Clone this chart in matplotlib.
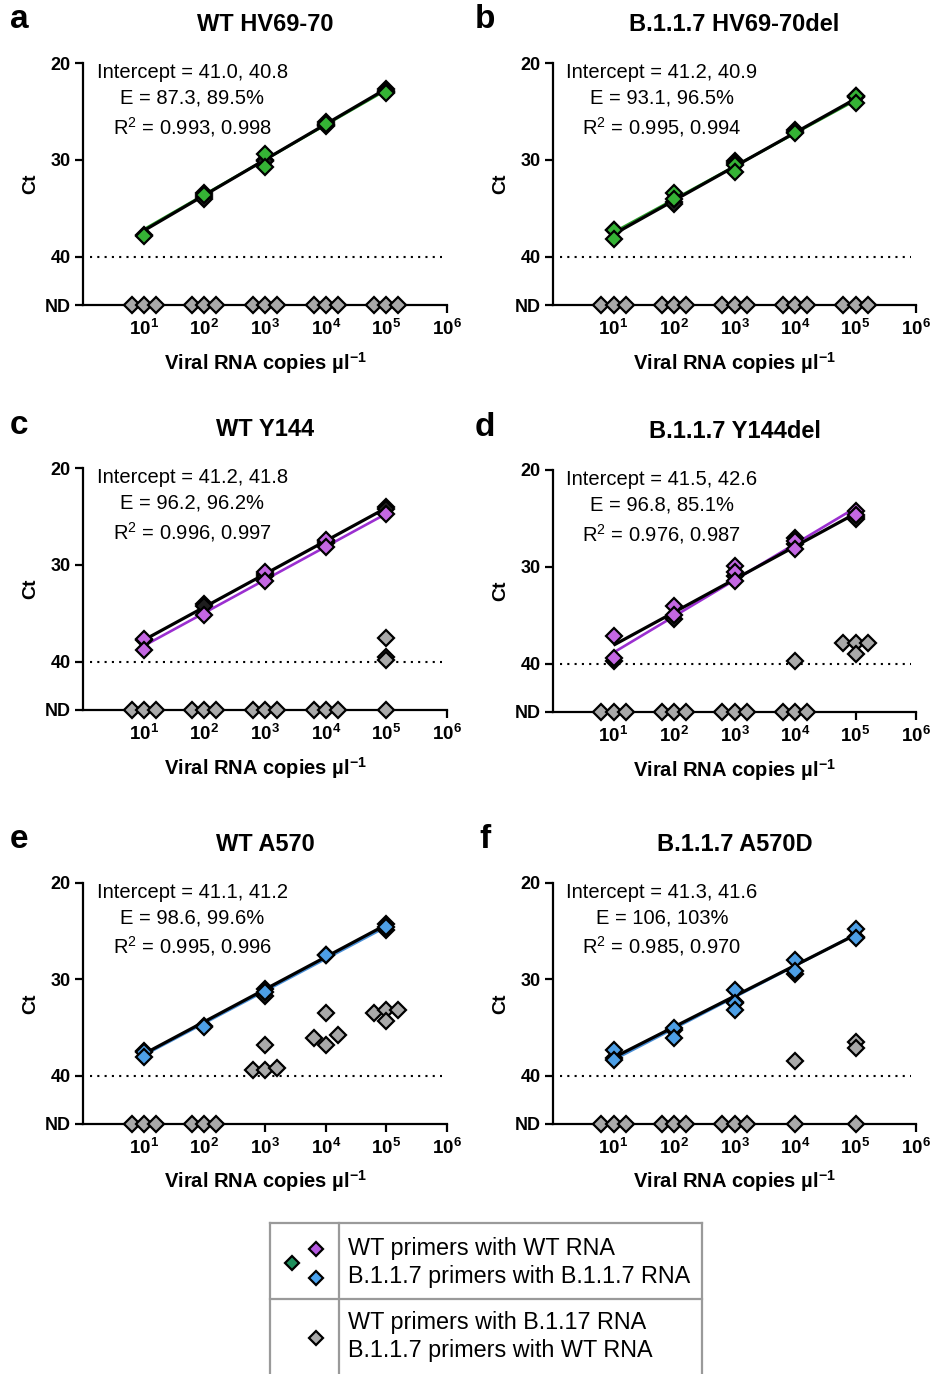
import numpy as np
import matplotlib
matplotlib.use('Agg')
import matplotlib.pyplot as plt

plt.rcParams['font.family'] = ['Liberation Sans', 'DejaVu Sans']
plt.rcParams['mathtext.fontset'] = 'custom'
plt.rcParams['mathtext.rm'] = 'Liberation Sans'
plt.rcParams['mathtext.it'] = 'Liberation Sans:italic'
plt.rcParams['mathtext.bf'] = 'Liberation Sans:bold'

# ---------------- data ----------------
log_conc = [1, 2, 3, 4, 5]                       # 10^1 .. 10^5 copies/ul
x_tick_exp = [1, 2, 3, 4, 5, 6]
x_tick_labels = [r'$\mathbf{10^{1}}$', r'$\mathbf{10^{2}}$', r'$\mathbf{10^{3}}$',
                 r'$\mathbf{10^{4}}$', r'$\mathbf{10^{5}}$', r'$\mathbf{10^{6}}$']
y_ticks = [20, 30, 40, 45]
y_tick_labels = ['20', '30', '40', 'ND']
ND_VALUE = 45
THRESHOLD = 40

panel_letters = ['a', 'b', 'c', 'd', 'e', 'f']
panel_titles = ['WT HV69-70', 'B.1.1.7 HV69-70del', 'WT Y144',
                'B.1.1.7 Y144del', 'WT A570', 'B.1.1.7 A570D']
intercepts = [(41.0, 40.8), (41.2, 40.9), (41.2, 41.8),
              (41.5, 42.6), (41.1, 41.2), (41.3, 41.6)]
efficiencies = [(87.3, 89.5), (93.1, 96.5), (96.2, 96.2),
                (96.8, 85.1), (98.6, 99.6), (106, 103)]
r_squared = [(0.993, 0.998), (0.995, 0.994), (0.996, 0.997),
             (0.976, 0.987), (0.995, 0.996), (0.985, 0.970)]

# Ct of the two matched series per concentration (black-filled, coloured)
black_a = [[37.8], [33.8, 34.1], [30.0, 30.1], [26.4, 26.5], [22.7, 22.9]]
color_a = [[37.9], [33.4, 33.6], [29.4, 30.7], [26.1, 26.3], [23.0, 23.1]]
black_b = [[37.3], [34.4, 34.6], [30.1, 30.3], [26.9, 27.1], [23.4, 23.5]]
color_b = [[37.3, 38.2], [33.4, 34.1], [30.5, 31.3], [27.2], [23.4, 24.1]]
black_c = [[37.8], [34.0, 34.3], [31.0, 31.2], [27.5, 27.7], [24.0, 24.2]]
color_c = [[37.7, 38.8], [35.2], [30.7, 31.7], [27.4, 28.2], [24.8]]
black_d = [[39.7], [35.4], [31.0], [27.0, 27.6], [24.9, 25.1]]
color_d = [[37.1, 39.4], [34.1, 35.0], [29.9, 30.5, 31.5], [27.3, 28.2], [24.2, 24.7]]
black_e = [[37.4], [34.8], [31.0, 31.7], [27.5], [24.3, 24.9]]
color_e = [[37.5, 38.1], [34.9], [31.3], [27.5], [24.6]]
black_f = [[38.2], [35.3], [32.3], [29.4], [25.6]]
color_f = [[37.3, 38.4], [35.0, 36.1], [31.1, 32.5, 33.2], [28.0, 29.1], [24.8, 25.7]]

# mismatched (grey) detections: concentration exponent, spread slot, Ct
grey_exp_c = [5, 5, 5]
grey_slot_c = [0, 0, 0]
grey_ct_c = [37.6, 39.5, 39.8]
grey_exp_d = [4, 5, 5, 5, 5]
grey_slot_d = [0, -1, 0, 0, 1]
grey_ct_d = [39.75, 37.9, 37.9, 39.0, 37.9]
grey_exp_e = [3, 3, 3, 3, 4, 4, 4, 4, 5, 5, 5, 5]
grey_slot_e = [-1, 0, 1, 0, -1, 0, 0, 1, -1, 0, 0, 1]
grey_ct_e = [39.35, 39.4, 39.2, 36.85, 36.1, 33.5, 36.85, 35.8, 33.5, 33.2, 34.3, 33.2]
grey_exp_f = [4, 5, 5]
grey_slot_f = [0, 0, 0]
grey_ct_f = [38.5, 36.5, 37.1]

# number of non-detected (ND) grey replicates per concentration
nd_a = [3, 3, 3, 3, 3]
nd_b = [3, 3, 3, 3, 3]
nd_c = [3, 3, 3, 3, 1]
nd_d = [3, 3, 3, 3, 0]
nd_e = [3, 3, 0, 0, 0]
nd_f = [3, 3, 3, 1, 1]

legend_row1 = ['WT primers with WT RNA', 'B.1.1.7 primers with B.1.1.7 RNA']
legend_row2 = ['WT primers with B.1.17 RNA', 'B.1.1.7 primers with WT RNA']

# ---------------- styles ----------------
GREEN, PURPLE, BLUE = '#35b335', '#c467e3', '#4d9fe6'
LINE_GREEN, LINE_PURPLE, LINE_BLUE = '#2a9d2a', '#9b2fd0', '#4a8fd6'
GREY = '#a9a9a9'
BLACKFILL = '#1e1e1e'
MS = 8.0
MEW = 1.6
SPREAD = 0.2   # decades between side-by-side replicates

panels = [
    dict(black=black_a, color=color_a, gexp=[], gslot=[], gct=[], nd=nd_a, fc=GREEN, lc=LINE_GREEN),
    dict(black=black_b, color=color_b, gexp=[], gslot=[], gct=[], nd=nd_b, fc=GREEN, lc=LINE_GREEN),
    dict(black=black_c, color=color_c, gexp=grey_exp_c, gslot=grey_slot_c, gct=grey_ct_c, nd=nd_c, fc=PURPLE, lc=LINE_PURPLE),
    dict(black=black_d, color=color_d, gexp=grey_exp_d, gslot=grey_slot_d, gct=grey_ct_d, nd=nd_d, fc=PURPLE, lc=LINE_PURPLE),
    dict(black=black_e, color=color_e, gexp=grey_exp_e, gslot=grey_slot_e, gct=grey_ct_e, nd=nd_e, fc=BLUE, lc=LINE_BLUE),
    dict(black=black_f, color=color_f, gexp=grey_exp_f, gslot=grey_slot_f, gct=grey_ct_f, nd=nd_f, fc=BLUE, lc=LINE_BLUE),
]

W, H = 933, 1374
# axes boxes in pixels: left, right, top, bottom
boxes = [(83, 447, 63, 305), (553, 916, 63, 305),
         (83, 447, 468, 710), (553, 916, 470, 712),
         (83, 447, 883, 1124), (553, 916, 883, 1124)]

fig = plt.figure(figsize=(W / 100, H / 100), dpi=100)


def expand(series):
    xs, ys = [], []
    for e, vals in zip(log_conc, series):
        for v in vals:
            xs.append(10.0 ** e)
            ys.append(v)
    return xs, ys


for i, p in enumerate(panels):
    l, r, t, b = boxes[i]
    ax = fig.add_axes([l / W, 1 - b / H, (r - l) / W, (b - t) / H])
    ax.set_xscale('log')
    ax.set_xlim(1, 1e6)
    ax.set_ylim(ND_VALUE, 20)
    for s in ['top', 'right']:
        ax.spines[s].set_visible(False)
    for s in ['left', 'bottom']:
        ax.spines[s].set_linewidth(1.6)
    ax.set_xticks([10.0 ** e for e in x_tick_exp])
    ax.set_xticklabels(x_tick_labels, fontsize=13.5)
    ax.xaxis.set_minor_locator(matplotlib.ticker.NullLocator())
    ax.set_yticks(y_ticks)
    ax.set_yticklabels(y_tick_labels, fontsize=13, fontweight='bold')
    ax.tick_params(axis='both', width=1.6, length=6, direction='out')
    ax.tick_params(axis='x', pad=4)
    ax.tick_params(axis='y', pad=3)

    ax.set_xlabel('Viral RNA copies µl$^{\\mathbf{-1}}$', fontsize=14.5, fontweight='bold')
    ax.xaxis.set_label_coords(0.5, -0.185)
    ax.set_ylabel('Ct', fontsize=14, fontweight='bold')
    ax.yaxis.set_label_coords(-0.12, 0.5)

    ax.axhline(THRESHOLD, xmin=0.02, xmax=0.985, color='black', lw=1.5,
               linestyle=(0, (1, 2.5)), zorder=1)

    # regression lines from intercept & efficiency
    xfit = np.array([10.0 ** log_conc[0], 10.0 ** log_conc[-1]])
    for k, (col, lw, zo) in enumerate([('black', 2.3, 3), (p['lc'], 1.9, 2)]):
        slope = -1.0 / np.log10(1 + efficiencies[i][k] / 100.0)
        ax.plot(xfit, intercepts[i][k] + slope * np.log10(xfit), color=col, lw=lw,
                zorder=zo, solid_capstyle='butt')

    # grey ND points
    xs, ys = [], []
    for e, n in zip(log_conc, p['nd']):
        slots = [0] if n == 1 else ([-1, 0, 1] if n == 3 else [])
        for sl in slots:
            xs.append(10.0 ** (e + SPREAD * sl))
            ys.append(ND_VALUE)
    ax.plot(xs, ys, 'D', ms=MS, mfc=GREY, mec='black', mew=MEW, clip_on=False, zorder=5)
    # grey detections
    if p['gct']:
        gx = [10.0 ** (e + SPREAD * sl) for e, sl in zip(p['gexp'], p['gslot'])]
        ax.plot(gx, p['gct'], 'D', ms=MS, mfc=GREY, mec='black', mew=MEW,
                clip_on=False, zorder=5)

    bx, by = expand(p['black'])
    ax.plot(bx, by, 'D', ms=MS, mfc=BLACKFILL, mec='black', mew=MEW, zorder=6)
    cx, cy = expand(p['color'])
    ax.plot(cx, cy, 'D', ms=MS, mfc=p['fc'], mec='black', mew=MEW, zorder=7)

    ia, ib = intercepts[i]
    ea, eb = efficiencies[i]
    ra, rb = r_squared[i]
    ax.text(0.30, 0.962, f'Intercept = {ia:.1f}, {ib:.1f}', transform=ax.transAxes,
            ha='center', va='center', fontsize=14.5)
    ax.text(0.30, 0.855, f'E = {ea:g}, {eb:g}%', transform=ax.transAxes,
            ha='center', va='center', fontsize=14.5)
    ax.text(0.30, 0.737, f'R$^{{2}}$ = {ra:.3f}, {rb:.3f}', transform=ax.transAxes,
            ha='center', va='center', fontsize=14.5)

    ax.text(0.5, 1.16, panel_titles[i], transform=ax.transAxes, ha='center',
            va='center', fontsize=17, fontweight='bold')
    lx = [19, 485][i % 2]
    ly = t - 43
    fig.text(lx / W, 1 - ly / H, panel_letters[i], ha='center', va='center',
             fontsize=24, fontweight='bold')

# ---------------- legend box ----------------
ov = fig.add_axes([0, 0, 1, 1])
ov.set_xlim(0, W)
ov.set_ylim(H, 0)
ov.axis('off')
BOX = '#9a9a9a'
L, R, T, M, D = 270, 702, 1223, 1299, 339
for xs_, ys_ in [([L, R], [T, T]), ([L, R], [M, M]), ([L, L], [T, H]),
                 ([R, R], [T, H]), ([D, D], [T, H])]:
    ov.plot(xs_, ys_, color=BOX, lw=1.6, solid_capstyle='projecting')
ov.plot([292], [1263], 'D', ms=7, mfc='#1f8f5c', mec='black', mew=1.6)
ov.plot([316], [1249], 'D', ms=7, mfc='#b458e0', mec='black', mew=1.6)
ov.plot([316], [1278], 'D', ms=7, mfc='#4aa3f0', mec='black', mew=1.6)
ov.plot([316], [1338], 'D', ms=7, mfc=GREY, mec='black', mew=1.6)
ov.text(348, 1248, legend_row1[0], fontsize=16.8, va='center', ha='left')
ov.text(348, 1276, legend_row1[1], fontsize=16.8, va='center', ha='left')
ov.text(348, 1323, legend_row2[0], fontsize=16.8, va='center', ha='left')
ov.text(348, 1350, legend_row2[1], fontsize=16.8, va='center', ha='left')

fig.savefig('out.png', dpi=100)
